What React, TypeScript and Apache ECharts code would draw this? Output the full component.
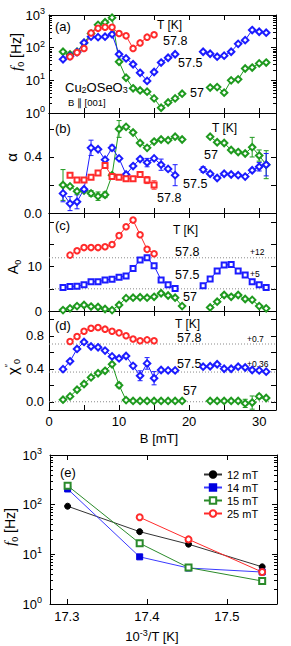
import React, { useEffect, useRef } from 'react';
import * as echarts from 'echarts';

// ---------- data ----------
const B57 = [2, 3, 4, 5, 6, 7, 8, 9, 10, 11, 12, 13, 14, 15, 16, 17, 18, 19, 23, 24, 25, 26, 27, 28, 29, 30, 31];
const B575 = [2, 3, 4, 5, 6, 7, 8, 9, 10, 11, 12, 13, 14, 15, 16, 17, 18, 22, 23, 24, 25, 26, 27, 28, 29, 30, 31];
const B578 = [3, 4, 5, 6, 7, 8, 9, 10, 11, 12, 13, 14, 15];

// (a) f0 [Hz]
const f57 = [75, 62, 75, 140, 270, 500, 600, 830, 37, 12, 5.7, 4.9, 4.5, 2.8, 1.45, 2.1, 2.8, 3.9, 6.0, 6.2, 4.2, 10, 10.7, 23, 24.6, 33, 35];
const f575 = [44, 55, 73, 142, 217, 210, 217, 258, 63, 47, 31, 17, 9.6, 18, 35, 49, 63, 75, 65, 53, 57, 75, 131, 170, 346, 307, 287];
const f578 = [53, 71, 95, 280, 390, 420, 420, 270, 230, 95, 140, 210, 250];

// (b) alpha
const a57 = [0.2, 0.19, 0.155, 0.16, 0.14, 0.12, 0.13, 0.27, 0.6, 0.615, 0.575, 0.5, 0.465, 0.51, 0.525, 0.52, 0.545, 0.525, 0.545, 0.505, 0.5, 0.45, 0.435, 0.425, 0.47, 0.41, 0.345];
const a575 = [0.14, 0.067, 0.08, 0.17, 0.465, 0.455, 0.38, 0.465, 0.39, 0.275, 0.335, 0.385, 0.36, 0.39, 0.345, 0.315, 0.27, 0.31, 0.28, 0.25, 0.28, 0.275, 0.27, 0.26, 0.305, 0.33, 0.345];
const a578 = [0.27, 0.235, 0.235, 0.255, 0.285, 0.34, 0.26, 0.255, 0.245, 0.245, 0.275, 0.235, 0.2];
const ea57 = [0.11, 0, 0, 0, 0.02, 0.03, 0.02, 0, 0.06, 0, 0, 0, 0, 0, 0, 0, 0, 0, 0, 0, 0, 0, 0, 0, 0.07, 0.04, 0.1];
const ea575 = [0.06, 0.05, 0.05, 0, 0.055, 0, 0, 0.02, 0, 0, 0, 0, 0.03, 0, 0.04, 0, 0.075, 0.02, 0, 0, 0, 0, 0, 0, 0, 0.03, 0.08];
const ea578 = [0, 0, 0, 0, 0, 0, 0, 0, 0, 0, 0, 0.025, 0.03];

// (c) A0
const A57 = [0.2, 0.6, 1.1, 1.35, 1.0, 0.9, 0.45, 0.2, 1.35, 2.9, 3.0, 3.1, 3.0, 3.2, 4.0, 3.5, 3.0, 1.1, 0.8, 2.1, 3.6, 3.2, 3.6, 2.7, 2.5, 1.1, 0.6];
const A575 = [5.3, 5.5, 5.6, 5.9, 6.6, 6.6, 7.0, 7.15, 7.6, 7.9, 9.6, 11.5, 12.0, 10.2, 7.0, 5.9, 5.1, 5.7, 7.2, 9.0, 10.4, 10.5, 9.0, 8.1, 6.6, 5.9, 5.3];
const A578 = [12.6, 13.6, 14.3, 14.3, 14.3, 14.5, 15.0, 17.0, 19.0, 20.5, 17.2, 13.9, 12.9];
const offsetsC = [12, 5];

// (d) chi''
const c57 = [0.025, 0.065, 0.145, 0.215, 0.295, 0.345, 0.375, 0.455, 0.2, 0.02, 0.01, 0.01, 0.01, 0.01, 0.01, 0.01, 0.01, 0.01, 0.01, 0.01, 0.01, 0.01, 0.01, -0.02, -0.01, 0.065, 0.045];
const c575 = [0.395, 0.49, 0.64, 0.725, 0.67, 0.66, 0.62, 0.55, 0.525, 0.555, 0.435, 0.315, 0.465, 0.285, 0.385, 0.38, 0.38, 0.425, 0.43, 0.455, 0.4, 0.4, 0.425, 0.415, 0.385, 0.38, 0.365];
const c578 = [0.73, 0.79, 0.855, 0.89, 0.9, 0.88, 0.855, 0.835, 0.8, 0.76, 0.74, 0.75, 0.74];
const ec57 = [0, 0, 0, 0, 0, 0, 0, 0, 0.03, 0, 0, 0, 0, 0, 0, 0, 0, 0, 0, 0, 0, 0, 0, 0.05, 0.08, 0.025, 0];
const ec575 = [0, 0, 0, 0, 0, 0, 0, 0, 0, 0, 0.02, 0.06, 0.07, 0.08, 0, 0, 0, 0, 0, 0, 0, 0, 0, 0, 0, 0, 0];
const offsetsD = [0.7, 0.36, 0];

// (e) f0 vs 1e3/T
const invT = [17.301, 17.391, 17.452, 17.544];
const f12 = [93, 28.6, 16, 5.6];
const f14 = [207, 8.9, 5.3, 4.4];
const f15 = [241, 16.7, 5.4, 2.9];
const f25 = [null, 55.7, 20, 4.4];

// tick labels
const xTicksB = [0, 5, 10, 15, 20, 25, 30];
const xLabelsB = [0, 10, 20, 30];
const xTicksE = [17.3, 17.4, 17.5];
const decades = [0, 1, 2, 3];

// ---------- style ----------
const RED = '#ff2b2b';
const BLUE = '#1c1cff';
const GREEN = '#1f9a1f';
const FONT = '"Liberation Sans", Arial, sans-serif';
const BMIN = 0;
const BMAX = 32.4;

const logMinor: number[] = [];
for (let n = 0; n < 3; n++) for (let k = 2; k <= 9; k++) logMinor.push(n + Math.log10(k));

function segments(xs: number[], ys: (number | null)[], tf?: (v: number) => number) {
  const out: number[][][] = [];
  let cur: number[][] = [];
  for (let i = 0; i < xs.length; i++) {
    const y = ys[i];
    if (y == null) continue;
    if (cur.length && xs[i] - cur[cur.length - 1][0] > 2.5) {
      out.push(cur);
      cur = [];
    }
    cur.push([xs[i], tf ? tf(y) : y]);
  }
  if (cur.length) out.push(cur);
  return out;
}

function buildOption() {
  const grids = [
    { left: 49, right: 15, top: 15, height: 98 },
    { left: 49, right: 15, top: 113, height: 100 },
    { left: 49, right: 15, top: 213, height: 98 },
    { left: 49, right: 15, top: 311, height: 99 },
    { left: 50, right: 14, top: 455, height: 149 },
  ];
  const xAxes: any[] = [];
  const yAxes: any[] = [];
  const lbl = { fontSize: 13, color: '#000', fontFamily: FONT };
  const supRich = {
    b: { fontSize: 13, fontFamily: FONT, color: '#000', lineHeight: 17 },
    s: { fontSize: 9, fontFamily: FONT, color: '#000', lineHeight: 9, verticalAlign: 'top' },
  };

  function addX(grid: number, min: number, max: number, ticks: number[], labels: number[], show: boolean, fmt: any, margin: number) {
    const idx = xAxes.length;
    for (const pos of ['bottom', 'top']) {
      xAxes.push({
        type: 'value', gridIndex: grid, position: pos, min, max,
        axisLine: { show: true, onZero: false, lineStyle: { color: '#000', width: 1 } },
        axisTick: { show: true, inside: true, length: 5, customValues: ticks, lineStyle: { color: '#000', width: 1 } },
        axisLabel: { show: show && pos === 'bottom', customValues: labels, formatter: fmt, margin, ...lbl },
        splitLine: { show: false },
      });
    }
    return idx;
  }
  function addY(grid: number, min: number, max: number, ticks: number[], labels: number[], fmt: any, margin: number, minor?: number[], rich?: any) {
    const idx = yAxes.length;
    for (const pos of ['left', 'right']) {
      yAxes.push({
        type: 'value', gridIndex: grid, position: pos, min, max,
        axisLine: { show: true, onZero: false, lineStyle: { color: '#000', width: 1 } },
        axisTick: { show: true, inside: true, length: 5, customValues: ticks, lineStyle: { color: '#000', width: 1 } },
        axisLabel: { show: pos === 'left', customValues: labels, formatter: fmt, margin, rich, ...lbl },
        splitLine: { show: false },
      });
    }
    if (minor) {
      for (const pos of ['left', 'right']) {
        yAxes.push({
          type: 'value', gridIndex: grid, position: pos, min, max,
          axisLine: { show: false, onZero: false },
          axisTick: { show: true, inside: true, length: 3, customValues: minor, lineStyle: { color: '#000', width: 1 } },
          axisLabel: { show: false },
          splitLine: { show: false },
        });
      }
    }
    return idx;
  }

  const xa = [0, 1, 2, 3].map((g) => addX(g, BMIN, BMAX, xTicksB, xLabelsB, g === 3, (v: number) => String(v), 5));
  const xe = addX(4, 17.279, 17.5625, xTicksE, xTicksE, true, (v: number) => v.toFixed(1), 6);

  const logFmt = (v: number) => `{b|10}{s|${Math.round(v)}}`;
  const ya = addY(0, 0, 3, decades, decades, logFmt, 4, logMinor, supRich);
  const yb = addY(1, 0, 0.714, [0, 0.2, 0.4, 0.6], [0, 0.4], (v: number) => v.toFixed(1), 7);
  const yc = addY(2, 0, 22.1, [0, 5, 10, 15, 20], [0, 10], (v: number) => String(v), 7);
  const yd = addY(3, -0.1, 1.1, [0, 0.2, 0.4, 0.6, 0.8, 1.0], [0, 0.4, 0.8], (v: number) => v.toFixed(1), 5);
  const ye = addY(4, 0, 3, decades, decades, logFmt, 8, logMinor, supRich);

  const series: any[] = [];
  const addLine = (name: string, xi: number, yi: number, xs: number[], ys: (number | null)[], color: string, symbol: string, size: number, tf?: (v: number) => number) => {
    for (const seg of segments(xs, ys, tf)) {
      series.push({
        type: 'line', name, xAxisIndex: xi, yAxisIndex: yi, data: seg,
        symbol, symbolSize: size, showSymbol: true,
        lineStyle: { color, width: 1 },
        itemStyle: { color, borderColor: color, borderWidth: 1 },
        z: 3,
      });
    }
  };
  const addErr = (xi: number, yi: number, xs: number[], ys: number[], es: number[], color: string) => {
    const data = xs.map((x, i) => [x, ys[i], es[i]]).filter((d) => d[2] > 0);
    series.push({
      type: 'custom', xAxisIndex: xi, yAxisIndex: yi, data, z: 2,
      encode: { x: 0, y: 1 },
      renderItem: (params: any, api: any) => {
        const x = api.value(0);
        const y = api.value(1);
        const e = api.value(2);
        const p1 = api.coord([x, y + e]);
        const p2 = api.coord([x, y - e]);
        const w = 2.5;
        const st = { stroke: color, lineWidth: 1 };
        return {
          type: 'group',
          children: [
            { type: 'line', shape: { x1: p1[0], y1: p1[1], x2: p2[0], y2: p2[1] }, style: st },
            { type: 'line', shape: { x1: p1[0] - w, y1: p1[1], x2: p1[0] + w, y2: p1[1] }, style: st },
            { type: 'line', shape: { x1: p2[0] - w, y1: p2[1], x2: p2[0] + w, y2: p2[1] }, style: st },
          ],
        };
      },
    });
  };
  const refLine = (xi: number, yi: number, v: number) => {
    series.push({
      type: 'line', xAxisIndex: xi, yAxisIndex: yi, data: [[BMIN, v], [BMAX, v]],
      symbol: 'none', lineStyle: { color: '#8a8a8a', width: 1, type: [1, 2] }, z: 1, silent: true,
    });
  };

  const DS = 6.5;
  const CS = 5.5;
  // (a)
  addLine('57a', xa[0], ya, B57, f57, GREEN, 'emptyDiamond', DS, Math.log10);
  addLine('575a', xa[0], ya, B575, f575, BLUE, 'emptyDiamond', DS, Math.log10);
  addLine('578a', xa[0], ya, B578, f578, RED, 'emptyCircle', CS, Math.log10);
  // (b)
  addErr(xa[1], yb, B57, a57, ea57, GREEN);
  addErr(xa[1], yb, B575, a575, ea575, BLUE);
  addErr(xa[1], yb, B578, a578, ea578, RED);
  addLine('57b', xa[1], yb, B57, a57, GREEN, 'emptyDiamond', DS);
  addLine('575b', xa[1], yb, B575, a575, BLUE, 'emptyDiamond', DS);
  addLine('578b', xa[1], yb, B578, a578, RED, 'emptyRect', 5);
  // (c)
  offsetsC.forEach((v) => refLine(xa[2], yc, v));
  addLine('57c', xa[2], yc, B57, A57, GREEN, 'emptyDiamond', DS);
  addLine('575c', xa[2], yc, B575, A575, BLUE, 'emptyRect', 5);
  addLine('578c', xa[2], yc, B578, A578, RED, 'emptyCircle', CS);
  // (d)
  offsetsD.forEach((v) => refLine(xa[3], yd, v));
  addErr(xa[3], yd, B57, c57, ec57, GREEN);
  addErr(xa[3], yd, B575, c575, ec575, BLUE);
  addLine('57d', xa[3], yd, B57, c57, GREEN, 'emptyDiamond', DS);
  addLine('575d', xa[3], yd, B575, c575, BLUE, 'emptyDiamond', DS);
  addLine('578d', xa[3], yd, B578, c578, RED, 'emptyCircle', CS);
  // (e)
  const eSeries: [string, (number | null)[], string, string, string][] = [
    ['12 mT', f12, '#000000', '#333333', 'circle'],
    ['14 mT', f14, '#0000e0', '#3a3aff', 'rect'],
    ['15 mT', f15, '#2a8a2a', '#2a8a2a', 'emptyRect'],
    ['25 mT', f25, '#ff2b2b', '#ff2b2b', 'emptyCircle'],
  ];
  for (const [name, vals, c, lc, sym] of eSeries) {
    series.push({
      type: 'line', name, xAxisIndex: xe, yAxisIndex: ye,
      data: invT.map((x, i) => [x, vals[i]]).filter((d) => d[1] != null).map((d) => [d[0], Math.log10(d[1] as number)]),
      symbol: sym, symbolSize: 6,
      lineStyle: { color: lc, width: 1 },
      itemStyle: { color: c, borderColor: c, borderWidth: 1 },
      z: 3,
    });
  }

  const sub = { fontSize: 9, fontFamily: FONT, fill: '#000', lineHeight: 9, verticalAlign: 'bottom' };
  const sup = { fontSize: 9, fontFamily: FONT, fill: '#000', lineHeight: 9, verticalAlign: 'top' };
  const T = (text: string, x: number, y: number, size = 12.5, extra: any = {}) => ({
    type: 'text', x, y, silent: true,
    style: { text, fontSize: size, fontFamily: FONT, fill: '#000', align: 'left', verticalAlign: 'middle', ...extra },
  });
  const R = (text: string, x: number, y: number, rich: any, size = 14) => ({
    type: 'text', x, y, rotation: Math.PI / 2, silent: true,
    style: { text, fontSize: size, fontFamily: FONT, fill: '#000', align: 'center', verticalAlign: 'middle', lineHeight: 18, rich },
  });
  const fRich = { i: { fontSize: 15, fontStyle: 'italic', fontFamily: '"Liberation Serif", serif', fill: '#000', lineHeight: 18 }, sub };

  const graphic = [
    T('(a)', 55, 26, 13), T('T [K]', 157, 25, 12), T('57.8', 163, 40.5), T('57.5', 178, 63), T('57', 190, 93),
    T('Cu{sub|2}OSeO{sub|3}', 65, 87.5, 13, { rich: { sub }, lineHeight: 14 }),
    T('B ∥ [001]', 68, 102.5, 9.5),
    T('(b)', 55, 128, 13), T('T [K]', 212, 128, 12), T('57', 204, 155), T('57.5', 183, 184), T('57.8', 157, 197.5),
    T('(c)', 55, 225, 13), T('T [K]', 173, 230, 12), T('57.8', 175, 251.5), T('+12', 250, 251.7, 8.5), T('57.5', 175, 275), T('+5', 250, 274, 8.5), T('57', 183, 297),
    T('(d)', 55, 325, 13), T('T [K]', 175, 324, 12), T('57.8', 177, 338), T('+0.7', 247, 338.8, 8.5), T('57.5', 177, 364), T('+0.36', 247, 363.7, 8.5), T('57', 183, 391),
    T('(e)', 60, 472, 13),
    T('B [mT]', 159, 438.3, 13, { align: 'center' }),
    T('10{sup|-3}/T [K]', 152, 636.7, 13, { align: 'center', rich: { sup }, lineHeight: 16 }),
    R('{i|f}{sub|0} [Hz]', 16, 52, fRich),
    R('α', 11, 157.5, {}, 15),
    R('A{sub|0}', 13, 267, { sub }),
    R('χ{sup|″}{sub|0}', 12, 367, { sub, sup }, 15),
    R('{i|f}{sub|0} [Hz]', 10, 527, fRich),
  ];

  return {
    animation: false,
    backgroundColor: '#ffffff',
    grid: grids,
    xAxis: xAxes,
    yAxis: yAxes,
    series,
    legend: {
      data: ['12 mT', '14 mT', '15 mT', '25 mT'],
      orient: 'vertical', left: 203, top: 468, padding: 0,
      itemWidth: 18, itemHeight: 8, itemGap: 0,
      textStyle: { fontSize: 11, fontFamily: FONT, color: '#000', lineHeight: 13 },
    },
    graphic,
  };
}

export default function App() {
  const ref = useRef<HTMLDivElement>(null);
  useEffect(() => {
    if (!ref.current) return;
    const chart = echarts.init(ref.current, undefined, { renderer: 'svg' });
    chart.setOption(buildOption() as any);
    return () => chart.dispose();
  }, []);
  return <div ref={ref} style={{ position: 'fixed', left: 0, top: 0, width: 291, height: 646, background: '#fff' }} />;
}
